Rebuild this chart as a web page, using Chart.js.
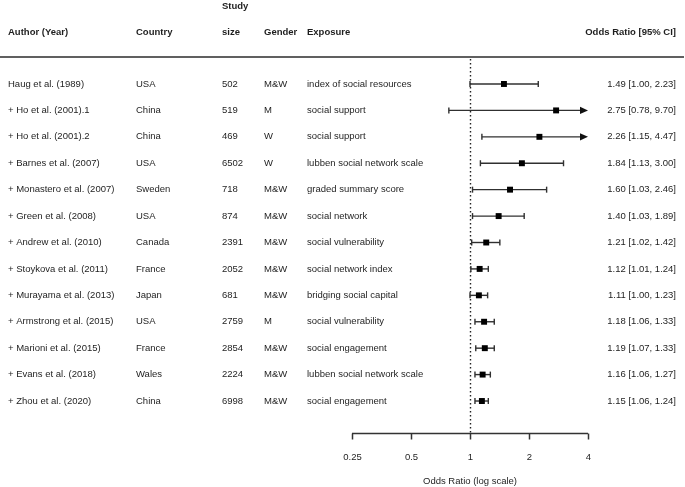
<!DOCTYPE html>
<html><head><meta charset="utf-8">
<script src="https://cdn.jsdelivr.net/npm/chart.js@4/dist/chart.umd.min.js"></script>
<style>html,body{margin:0;padding:0;background:#fff}#wrap{width:685px;height:487px}</style>
</head><body><div id="wrap"><canvas id="c" width="685" height="487"></canvas></div>
<script>
const authors = ["Haug et al. (1989)", "+ Ho et al. (2001).1", "+ Ho et al. (2001).2", "+ Barnes et al. (2007)", "+ Monastero et al. (2007)", "+ Green et al. (2008)", "+ Andrew et al. (2010)", "+ Stoykova et al. (2011)", "+ Murayama et al. (2013)", "+ Armstrong et al. (2015)", "+ Marioni et al. (2015)", "+ Evans et al. (2018)", "+ Zhou et al. (2020)"];
const countries = ["USA", "China", "China", "USA", "Sweden", "USA", "Canada", "France", "Japan", "USA", "France", "Wales", "China"];
const studySizes = ["502", "519", "469", "6502", "718", "874", "2391", "2052", "681", "2759", "2854", "2224", "6998"];
const genders = ["M&W", "M", "W", "W", "M&W", "M&W", "M&W", "M&W", "M&W", "M", "M&W", "M&W", "M&W"];
const exposures = ["index of social resources", "social support", "social support", "lubben social network scale", "graded summary score", "social network", "social vulnerability", "social network index", "bridging social capital", "social vulnerability", "social engagement", "lubben social network scale", "social engagement"];
const oddsRatios = [1.49, 2.75, 2.26, 1.84, 1.60, 1.40, 1.21, 1.12, 1.11, 1.18, 1.19, 1.16, 1.15];
const ciLower = [1.00, 0.78, 1.15, 1.13, 1.03, 1.03, 1.02, 1.01, 1.00, 1.06, 1.07, 1.06, 1.06];
const ciUpper = [2.23, 9.70, 4.47, 3.00, 2.46, 1.89, 1.42, 1.24, 1.23, 1.33, 1.33, 1.27, 1.24];
const tickValues = [0.25, 0.5, 1, 2, 4];
const tickLabels = ["0.25", "0.5", "1", "2", "4"];

const FONT = '"Liberation Sans", Arial, sans-serif';
const TXT = '#1e1e1e';
const LINE = '#303030';

const forestPlugin = {
  id: 'forest',
  beforeDatasetsDraw(chart) {
    const ctx = chart.ctx;
    const xs = chart.scales.x, ys = chart.scales.y;
    const X = v => xs.getPixelForValue(v);
    const Y = v => ys.getPixelForValue(v);
    const axisMin = tickValues[0], axisMax = tickValues[tickValues.length - 1];
    ctx.save();
    // header line
    ctx.strokeStyle = '#606060';
    ctx.lineWidth = 2;
    ctx.beginPath();
    ctx.moveTo(0, Math.round(Y(-0.02)));
    ctx.lineTo(684, Math.round(Y(-0.02)));
    ctx.stroke();
    // dotted reference line
    ctx.strokeStyle = '#222';
    ctx.lineWidth = 1.4;
    ctx.setLineDash([1.6, 2.4]);
    ctx.beginPath();
    ctx.moveTo(Math.round(X(1)) + 0.5, Y(0.05));
    ctx.lineTo(Math.round(X(1)) + 0.5, Y(14.2));
    ctx.stroke();
    ctx.setLineDash([]);
    // CI lines
    ctx.strokeStyle = LINE;
    ctx.fillStyle = '#111';
    ctx.lineWidth = 1.4;
    for (let i = 0; i < oddsRatios.length; i++) {
      const y = Y(i + 1);
      const lo = Math.max(ciLower[i], axisMin), hi = Math.min(ciUpper[i], axisMax);
      const x0 = X(lo), x1 = X(hi);
      ctx.beginPath();
      ctx.moveTo(x0, y); ctx.lineTo(ciUpper[i] > axisMax ? x1 - 6 : x1, y);
      ctx.stroke();
      ctx.beginPath();
      ctx.moveTo(x0, y - 3); ctx.lineTo(x0, y + 3);
      ctx.stroke();
      if (ciUpper[i] > axisMax) {
        ctx.beginPath();
        ctx.moveTo(x1, y); ctx.lineTo(x1 - 8, y - 3.6); ctx.lineTo(x1 - 8, y + 3.6);
        ctx.closePath(); ctx.fill();
      } else {
        ctx.beginPath();
        ctx.moveTo(x1, y - 3); ctx.lineTo(x1, y + 3);
        ctx.stroke();
      }
    }
    // axis
    const ay = Math.round(Y(14.21)) + 0.5;
    ctx.strokeStyle = '#333';
    ctx.lineWidth = 1.5;
    ctx.beginPath();
    ctx.moveTo(X(axisMin), ay); ctx.lineTo(X(axisMax), ay);
    ctx.stroke();
    ctx.fillStyle = TXT;
    ctx.font = '9.5px ' + FONT;
    ctx.textAlign = 'center';
    ctx.textBaseline = 'middle';
    tickValues.forEach((v, k) => {
      const tx = Math.round(X(v)) + 0.5;
      ctx.beginPath(); ctx.moveTo(tx, ay); ctx.lineTo(tx, ay + 6); ctx.stroke();
      ctx.fillText(tickLabels[k], tx, Y(15.12));
    });
    ctx.fillText('Odds Ratio (log scale)', X(1), Y(16.03));
    // headers
    ctx.font = 'bold 9.5px ' + FONT;
    ctx.textAlign = 'left';
    ctx.fillText('Author (Year)', 8, Y(-0.97));
    ctx.fillText('Country', 136, Y(-0.97));
    ctx.fillText('Study', 222, Y(-1.95));
    ctx.fillText('size', 222, Y(-0.97));
    ctx.fillText('Gender', 264, Y(-0.97));
    ctx.fillText('Exposure', 307, Y(-0.97));
    ctx.textAlign = 'right';
    ctx.fillText('Odds Ratio [95% CI]', 676, Y(-0.97));
    // rows
    ctx.font = '9.5px ' + FONT;
    for (let i = 0; i < authors.length; i++) {
      const y = Y(i + 1);
      ctx.textAlign = 'left';
      ctx.fillText(authors[i], 8, y);
      ctx.fillText(countries[i], 136, y);
      ctx.fillText(studySizes[i], 222, y);
      ctx.fillText(genders[i], 264, y);
      ctx.fillText(exposures[i], 307, y);
      ctx.textAlign = 'right';
      ctx.fillText(oddsRatios[i].toFixed(2) + ' [' + ciLower[i].toFixed(2) + ', ' + ciUpper[i].toFixed(2) + ']', 676, y);
    }
    ctx.restore();
  }
};

new Chart(document.getElementById('c'), {
  type: 'scatter',
  data: {
    datasets: [{
      data: oddsRatios.map((v, i) => ({ x: v, y: i + 1 })),
      pointStyle: 'rect',
      pointRadius: 4.2,
      backgroundColor: '#000',
      borderColor: '#000',
      borderWidth: 0
    }]
  },
  options: {
    responsive: false,
    animation: false,
    layout: { padding: 0, autoPadding: false },
    plugins: { legend: { display: false }, tooltip: { enabled: false } },
    scales: {
      x: { type: 'logarithmic', display: false, bounds: 'data', min: Math.pow(2, -470 / 59), max: Math.pow(2, 215 / 59) },
      y: { type: 'linear', display: false, reverse: true, min: 1 - 84 / 26.42, max: 13 + 86 / 26.42 }
    }
  },
  plugins: [forestPlugin]
});
</script>
</body></html>
